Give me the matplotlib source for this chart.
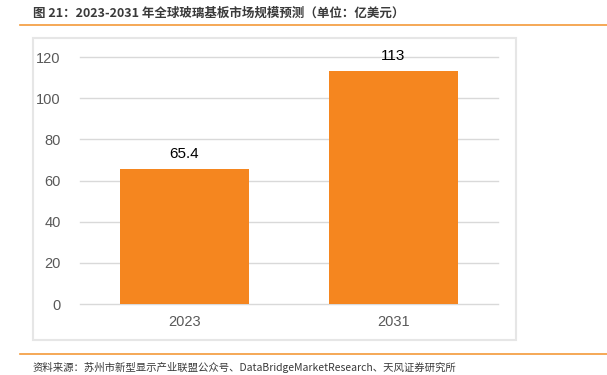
import matplotlib.pyplot as plt
from matplotlib.patches import Rectangle
from matplotlib.lines import Line2D

plt.rcParams['font.family'] = ['Noto Sans CJK SC', 'DejaVu Sans']

years = ["2023", "2031"]
market_size = [65.4, 113]
value_labels = ["65.4", "113"]

fig = plt.figure(figsize=(6.07, 3.75), dpi=100)

# outer chart frame
fig.patches.append(Rectangle((0.0544, 0.0933), 0.7957, 0.8053, transform=fig.transFigure,
                             fill=False, edgecolor="#E6E6E6", linewidth=1.5))

# orange rules above and below
fig.lines.append(Line2D([0.033, 1.0], [0.933, 0.933], transform=fig.transFigure, color="#F39A3A", linewidth=1.2))
fig.lines.append(Line2D([0.033, 1.0], [0.056, 0.056], transform=fig.transFigure, color="#F39A3A", linewidth=1.2))

fig.text(0.054, 0.965, "图 21：2023-2031 年全球玻璃基板市场规模预测（单位：亿美元）",
         fontsize=9, fontweight="bold", color="#3A3A3A", va="center", ha="left")
fig.text(0.054, 0.021, "资料来源：苏州市新型显示产业联盟公众号、DataBridgeMarketResearch、天风证券研究所",
         fontsize=7.5, color="#3A3A3A", va="center", ha="left")

ax = fig.add_axes([0.1318, 0.1893, 0.6886, 0.6587])
bars = ax.bar(years, market_size, width=0.62, color="#F5861F", zorder=3)
for b, lab in zip(bars, value_labels):
    ax.text(b.get_x() + b.get_width() / 2, b.get_height() + 4, lab,
            ha="center", va="bottom", fontsize=11, color="black", family="Liberation Sans")

ax.set_xlim(-0.5, 1.5)
ax.set_ylim(0, 120)
ax.set_yticks(range(0, 121, 20))
ax.grid(axis="y", color="#D9D9D9", linewidth=1, zorder=0)
for gl in ax.get_ygridlines():
    gl.set_clip_on(False)
for s in ax.spines.values():
    s.set_visible(False)
ax.tick_params(length=0, labelsize=10.5, labelcolor="#595959")
ax.tick_params(axis="y", pad=14)
ax.tick_params(axis="x", pad=8)
for t in ax.get_xticklabels() + ax.get_yticklabels():
    t.set_family("Liberation Sans")

fig.savefig("out.png", dpi=100)
